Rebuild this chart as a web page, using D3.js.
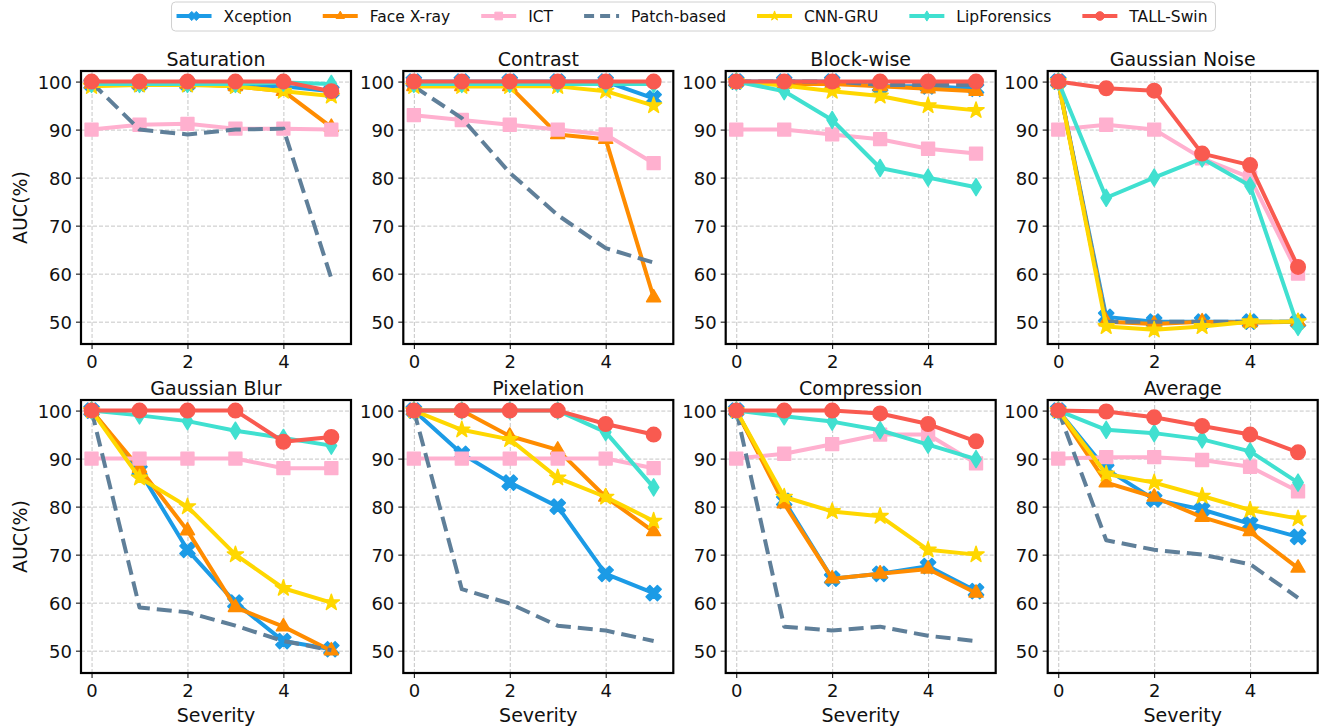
<!DOCTYPE html>
<html>
<head>
<meta charset="utf-8">
<script src="https://cdn.jsdelivr.net/npm/d3@7"></script>
<style>
  body { margin: 0; background: #fff; }
  text { font-family: "DejaVu Sans", sans-serif; fill: #111; }
  .grid line { stroke: #b8b8b8; stroke-width: 0.8; stroke-dasharray: 4,2; }
  .grid path { display: none; }
  .axis path { display: none; }
  .axis line { stroke: #000; stroke-width: 1; }
  .axis text { font-size: 18px; fill: #111; }
</style>
</head>
<body>
<div id="chart"></div>
<script>
// AUC vs severity for 8 perturbation types, 7 methods (2x4 small multiples)

const WIDTH = 1321;
const HEIGHT = 727;

const severity = [0, 1, 2, 3, 4, 5];
const yTicks = [50, 60, 70, 80, 90, 100];
const xTicks = [0, 2, 4];

const methods = ["Xception", "Face X-ray", "ICT", "Patch-based", "CNN-GRU", "LipForensics", "TALL-Swin"];
const colors = ["#1c9be6", "#ff8c00", "#ffb0cf", "#5f7f99", "#ffd700", "#40e0d0", "#f95a50"];
const markers = ["X", "triangle", "square", "none", "star", "diamond", "circle"];

const titles = ["Saturation", "Contrast", "Block-wise", "Gaussian Noise",
                "Gaussian Blur", "Pixelation", "Compression", "Average"];

// rows follow the methods order
const saturation = [
  [99.5, 99.5, 99.5, 99.3, 99, 98],
  [99.5, 99.5, 99.5, 99, 98, 90.5],
  [90, 91, 91.2, 90.2, 90.2, 90],
  [99.8, 90, 89, 90, 90.2, 59],
  [99, 99.3, 99.3, 99, 98, 97],
  [99.5, 99.5, 99.5, 99.5, 99.8, 99.5],
  [100, 100, 100, 100, 100, 98]
];
const contrast = [
  [100, 100, 100, 100, 100, 96.5],
  [99, 99, 99, 89, 88, 55],
  [93, 92, 91, 90, 89, 83],
  [99, 92.4, 81, 72.2, 65.3, 62.3],
  [99, 99, 99, 99, 98, 95],
  [99.5, 99.5, 99.5, 99.5, 99.5, 99.5],
  [100, 100, 100, 100, 100, 100]
];
const blockwise = [
  [100, 100, 100, 99, 99, 98.5],
  [100, 99.5, 99.5, 99, 98.5, 98],
  [90, 90, 89, 88, 86, 85],
  [100, 100, 100, 99.3, 99.3, 99.3],
  [100, 99.2, 98, 97, 95, 94],
  [100, 98, 92, 82, 80, 78],
  [100, 100, 100, 100, 100, 100]
];
const gaussianNoise = [
  [100, 51, 50, 50, 50, 50],
  [100, 50, 49.5, 50, 49.8, 50],
  [90, 91, 90, 84, 80, 60],
  [100, 50, 50, 50, 50, 50],
  [100, 49, 48.3, 49, 50, 50],
  [100, 75.8, 80, 84, 78.3, 48.9],
  [100, 98.6, 98.1, 85, 82.6, 61.4]
];
const gaussianBlur = [
  [100, 87.5, 71, 60, 52, 50.3],
  [100, 88, 75, 59, 55, 50],
  [90, 90, 90, 90, 88, 88],
  [100, 59, 58, 55.2, 52, 50.1],
  [100, 86, 80, 70, 63, 60],
  [100, 99, 97.8, 95.8, 94.3, 92.7],
  [100, 100, 100, 100, 93.5, 94.5]
];
const pixelation = [
  [100, 91, 85, 80, 66, 62],
  [100, 100, 94.7, 91.8, 82, 74.8],
  [90, 90, 90, 90, 90, 88],
  [100, 62.8, 59.8, 55.2, 54.2, 52],
  [100, 96, 94, 86, 82, 77],
  [100, 100, 100, 100, 95.5, 84],
  [100, 100, 100, 100, 97.2, 95]
];
const compression = [
  [100, 81.2, 65, 66, 67.6, 62.4],
  [100, 80.6, 65, 66, 67, 62],
  [90, 91, 93, 95, 95, 89],
  [100, 55, 54.2, 55, 53.1, 52],
  [100, 82, 79, 78, 71, 70],
  [100, 98.8, 97.7, 95.9, 92.9, 89.9],
  [100, 100, 100, 99.4, 97.2, 93.6]
];
const average = [
  [100, 87.8, 81.5, 79.4, 76.4, 73.7],
  [100, 85, 82, 77.8, 74.8, 67.2],
  [90, 90.3, 90.3, 89.7, 88.3, 83.2],
  [100, 73, 71, 70, 68, 61],
  [100, 86.8, 85, 82.2, 79.3, 77.5],
  [100, 96, 95.3, 94, 91.5, 85],
  [100, 99.8, 98.6, 96.8, 95, 91.3]
];

const panels = [saturation, contrast, blockwise, gaussianNoise,
                gaussianBlur, pixelation, compression, average];

// ---- Layout ----
const panelLeft = [81, 403.3, 725.7, 1047.7];
const panelTop = [71, 400];
const panelW = 270;
const panelH = 273;

const xScale = d3.scaleLinear().domain([-0.22, 5.41]).range([0, panelW]);
const yScale = d3.scaleLinear().domain([45.35, 102.2]).range([panelH, 0]);

const svg = d3.select("#chart")
  .append("svg")
  .attr("width", WIDTH)
  .attr("height", HEIGHT);

// marker shapes (matplotlib-like), k scales them down for the legend
function markerPath(type, k = 1) {
  if (type === "circle") return d3.symbol(d3.symbolCircle, 165 * k * k)();
  if (type === "square") return d3.symbol(d3.symbolSquare, 165 * k * k)();
  if (type === "triangle") return d3.symbol(d3.symbolTriangle, 85 * k * k)();
  if (type === "star") return d3.symbol(d3.symbolStar, 80 * k * k)();
  if (type === "diamond") return `M0,${-8.5 * k}L${5.2 * k},0L0,${8.5 * k}L${-5.2 * k},0Z`;
  if (type === "X") {
    const r = 8, a = 2.7;
    const pts = [[-a,-r],[a,-r],[a,-a],[r,-a],[r,a],[a,a],[a,r],[-a,r],[-a,a],[-r,a],[-r,-a],[-a,-a]];
    const c = Math.SQRT1_2 * k;
    return "M" + pts.map(([px, py]) => [(px - py) * c, (px + py) * c].map((v) => v.toFixed(2)).join(",")).join("L") + "Z";
  }
  return null;
}

const line = d3.line()
  .x((d, i) => xScale(severity[i]))
  .y((d) => yScale(d));

panels.forEach((series, p) => {
  const row = Math.floor(p / 4);
  const col = p % 4;
  const g = svg.append("g")
    .attr("transform", `translate(${panelLeft[col]},${panelTop[row]})`);

  // grid
  g.append("g")
    .attr("class", "grid")
    .attr("transform", `translate(0,${panelH})`)
    .call(d3.axisBottom(xScale).tickValues(xTicks).tickSize(-panelH).tickFormat(""));
  g.append("g")
    .attr("class", "grid")
    .call(d3.axisLeft(yScale).tickValues(yTicks).tickSize(-panelW).tickFormat(""));

  // axes
  g.append("g")
    .attr("class", "axis")
    .call(d3.axisLeft(yScale).tickValues(yTicks).tickSize(5).tickPadding(4).tickFormat(d3.format("d")))
    .selectAll("text").attr("dy", "0.36em");
  g.append("g")
    .attr("class", "axis")
    .attr("transform", `translate(0,${panelH})`)
    .call(d3.axisBottom(xScale).tickValues(xTicks).tickSize(5).tickPadding(6).tickFormat(d3.format("d")))
    .selectAll("text").attr("dy", "0.74em");

  // series
  series.forEach((vals, m) => {
    const sg = g.append("g");
    sg.append("path")
      .datum(vals)
      .attr("d", line)
      .attr("fill", "none")
      .attr("stroke", colors[m])
      .attr("stroke-width", 4)
      .attr("stroke-linejoin", "round")
      .attr("stroke-dasharray", markers[m] === "none" ? "15,7" : null);
    const mp = markerPath(markers[m]);
    if (mp) {
      sg.selectAll("path.mk")
        .data(vals)
        .join("path")
        .attr("class", "mk")
        .attr("d", mp)
        .attr("transform", (d, i) => `translate(${xScale(severity[i])},${yScale(d)})`)
        .attr("fill", colors[m])
        .attr("stroke", colors[m])
        .attr("stroke-width", 1.5)
        .attr("stroke-linejoin", "round");
    }
  });

  // frame
  g.append("rect")
    .attr("width", panelW)
    .attr("height", panelH)
    .attr("fill", "none")
    .attr("stroke", "#000")
    .attr("stroke-width", 2.2);

  // title
  g.append("text")
    .attr("x", panelW / 2)
    .attr("y", -5.5)
    .attr("text-anchor", "middle")
    .style("font-size", "19px")
    .text(titles[p]);

  if (col === 0) {
    g.append("text")
      .attr("transform", `translate(${27 - panelLeft[0]},${panelH / 2}) rotate(-90)`)
      .attr("text-anchor", "middle")
      .style("font-size", "19px")
      .text("AUC(%)");
  }
  if (row === 1) {
    g.append("text")
      .attr("x", panelW / 2)
      .attr("y", 722 - panelTop[1])
      .attr("text-anchor", "middle")
      .style("font-size", "19px")
      .text("Severity");
  }
});

// ---- Legend ----
const legend = svg.append("g");
const legBox = legend.append("rect")
  .attr("fill", "#fff")
  .attr("stroke", "#d0d0d0")
  .attr("stroke-width", 1)
  .attr("rx", 4);
const handleLen = 35, textPad = 12, colGap = 31, legY = 16;
let cursor = 0;
methods.forEach((name, m) => {
  const ig = legend.append("g").attr("class", "item");
  ig.append("line")
    .attr("x1", 0).attr("x2", handleLen)
    .attr("y1", 0).attr("y2", 0)
    .attr("stroke", colors[m])
    .attr("stroke-width", 4)
    .attr("stroke-dasharray", markers[m] === "none" ? "10,6" : null);
  const mp = markerPath(markers[m], 0.6);
  if (mp) {
    ig.append("path")
      .attr("d", mp)
      .attr("transform", `translate(${handleLen / 2},0)`)
      .attr("fill", colors[m])
      .attr("stroke", colors[m]);
  }
  const t = ig.append("text")
    .attr("x", handleLen + textPad)
    .attr("dy", "0.36em")
    .style("font-size", "15.5px")
    .text(name);
  const w = handleLen + textPad + t.node().getComputedTextLength();
  ig.attr("data-x", cursor);
  cursor += w + colGap;
});
const totalW = cursor - colGap;
const legLeft = 692 - totalW / 2;
legend.selectAll("g.item")
  .attr("transform", function () { return `translate(${+this.getAttribute("data-x") + legLeft},${legY})`; });
legBox
  .attr("x", legLeft - 5)
  .attr("y", 2)
  .attr("width", totalW + 13)
  .attr("height", 29);
</script>
</body>
</html>
